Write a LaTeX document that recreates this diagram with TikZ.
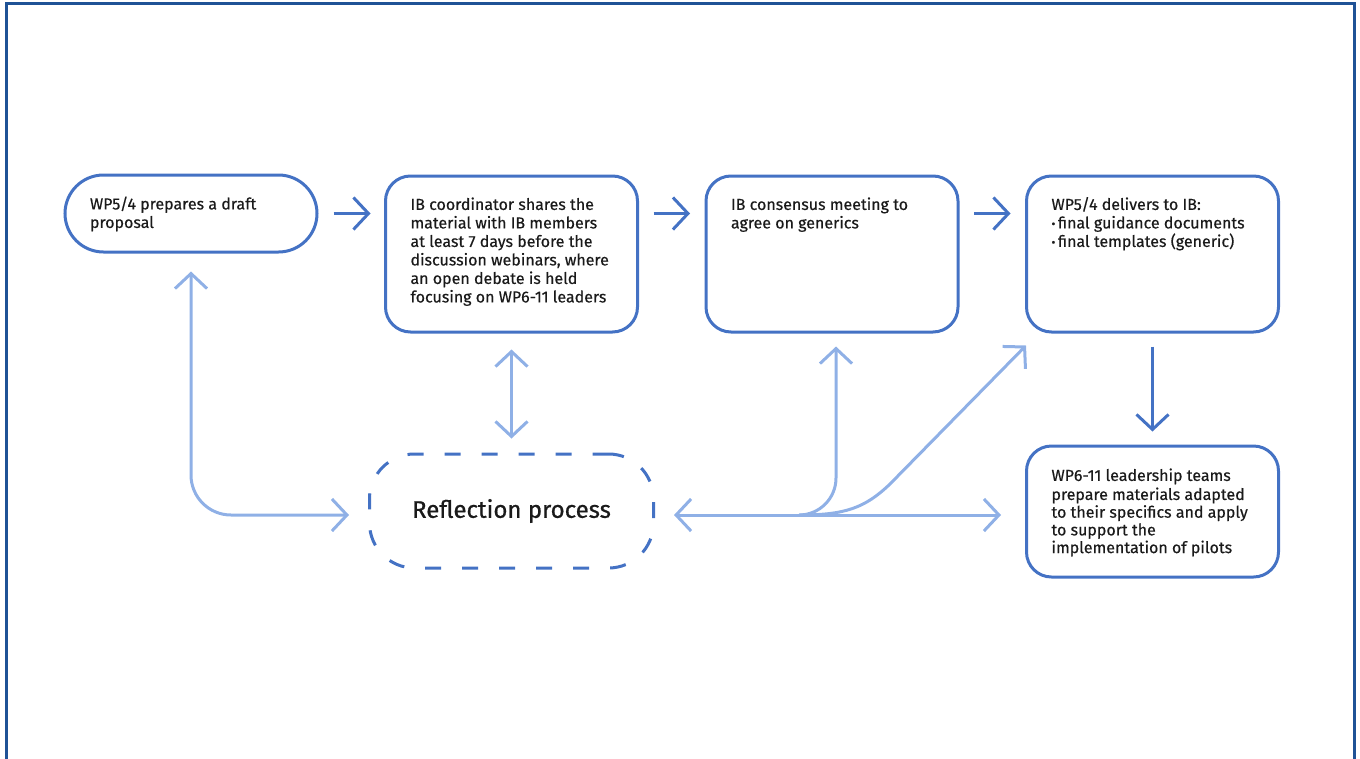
\documentclass[tikz,border=0pt]{standalone}
\usepackage{fontspec}
\setmainfont{Fira Sans}
\newfontfamily\bodyfam[FakeBold=0.45]{Fira Sans}
\newfontfamily\titlefam[FakeBold=0.8]{Fira Sans}
\usetikzlibrary{arrows.meta,calc}

\definecolor{boxblue}{HTML}{4472C4}
\definecolor{lightblue}{HTML}{8FB0E6}
\definecolor{framecol}{HTML}{1F5296}
\definecolor{ink}{HTML}{1A1A1A}

\newcommand\bodyfont{\bodyfam\fontsize{16}{18.5}\selectfont}
% text block of a card: card width, height of the text area, text set from the top left
\newcommand\boxtxt[3]{\parbox[c][#2][t]{\dimexpr#1-50pt\relax}{\raggedright\strut#3}}
\newcommand\bul{\raisebox{0.5pt}{\fontsize{12}{12}\selectfont •}\hspace{2.5pt}}

\tikzset{
  chev/.tip={Straight Barb[length=15pt,width=32pt]},
  card/.style={draw=boxblue, line width=3pt, rounded corners=25pt,
    inner xsep=25pt, inner ysep=21pt, font=\bodyfont, text=ink},
  reflbox/.style={draw=boxblue, line width=3pt, dash pattern=on 16pt off 21pt,
    rounded corners=45pt, minimum width=284pt, minimum height=114pt,
    inner sep=0pt, font=\titlefam\fontsize{24}{28}\selectfont, text=ink},
  dark/.style={draw=boxblue, line width=3pt, -chev},
  light/.style={draw=lightblue, line width=3pt},
}

\begin{document}
\begin{tikzpicture}[x=1pt, y=-1pt]
\useasboundingbox (0,0) rectangle (1360,758);
\draw[framecol, line width=2.5pt] (6.7,3.3) rectangle (1354.3,775);

% process cards
\node[card, rounded corners=38.5pt, inner ysep=21.5pt] (b1) at (191,213.5)
  {\boxtxt{252pt}{34pt}{WP5/4 prepares a draft\\proposal}};
\node[card] (b2) at (511.5,254)
  {\boxtxt{252pt}{114pt}{IB coordinator shares the\\material with IB members\\at least 7 days before the\\discussion webinars, where\\an open debate is held\\focusing on WP6-11 leaders}};
\node[card] (b3) at (832,254)
  {\boxtxt{252pt}{114pt}{IB consensus meeting to\\agree on generics}};
\node[card] (b4) at (1152.5,254)
  {\boxtxt{252pt}{114pt}{WP5/4 delivers to IB:\\\bul final guidance documents\\\bul final templates (generic)}};
\node[card, inner ysep=22pt] (b5) at (1152.5,511.5)
  {\boxtxt{252pt}{87pt}{\baselineskip=17.7pt WP6-11 leadership teams\\prepare materials adapted\\to their specifics and apply\\to support the\\implementation of pilots}};

\node[reflbox] (refl) at (511.5,511) {Reflection process};

% main flow
\draw[dark, shorten <=15pt, shorten >=13.5pt] (b1.east) -- (b1.east -| b2.west);
\draw[dark, shorten <=14.5pt, shorten >=14.5pt] (b1.east -| b2.east) -- (b1.east -| b3.west);
\draw[dark, shorten <=14.5pt, shorten >=14.5pt] (b1.east -| b3.east) -- (b1.east -| b4.west);
\draw[dark, shorten <=13pt, shorten >=13pt] (b4.south) -- (b5.north);

% feedback with the reflection process
\draw[light, chev-chev, rounded corners=40pt, shorten <=18pt, shorten >=19pt]
  (b1.south) |- ([yshift=-4pt]refl.west);
\draw[light, chev-chev, shorten <=16pt, shorten >=14pt] (b2.south) -- (refl.north);
\draw[light, chev-chev, shorten <=19pt, shorten >=24pt]
  ([yshift=-4pt]refl.east) -- ([yshift=-4pt]refl.east -| b5.west);

\coordinate (fork) at (800,515);
\coordinate (b4tip) at ([shift={(1pt,-12pt)}]b4.south west);
\draw[light, -chev, rounded corners=37pt, shorten >=13pt]
  (fork) -| ([xshift=4pt]b3.south);
\draw[light, -chev]
  (fork) .. controls (845,515) and (865,508) .. (890,484) -- (b4tip);
\end{tikzpicture}
\end{document}
